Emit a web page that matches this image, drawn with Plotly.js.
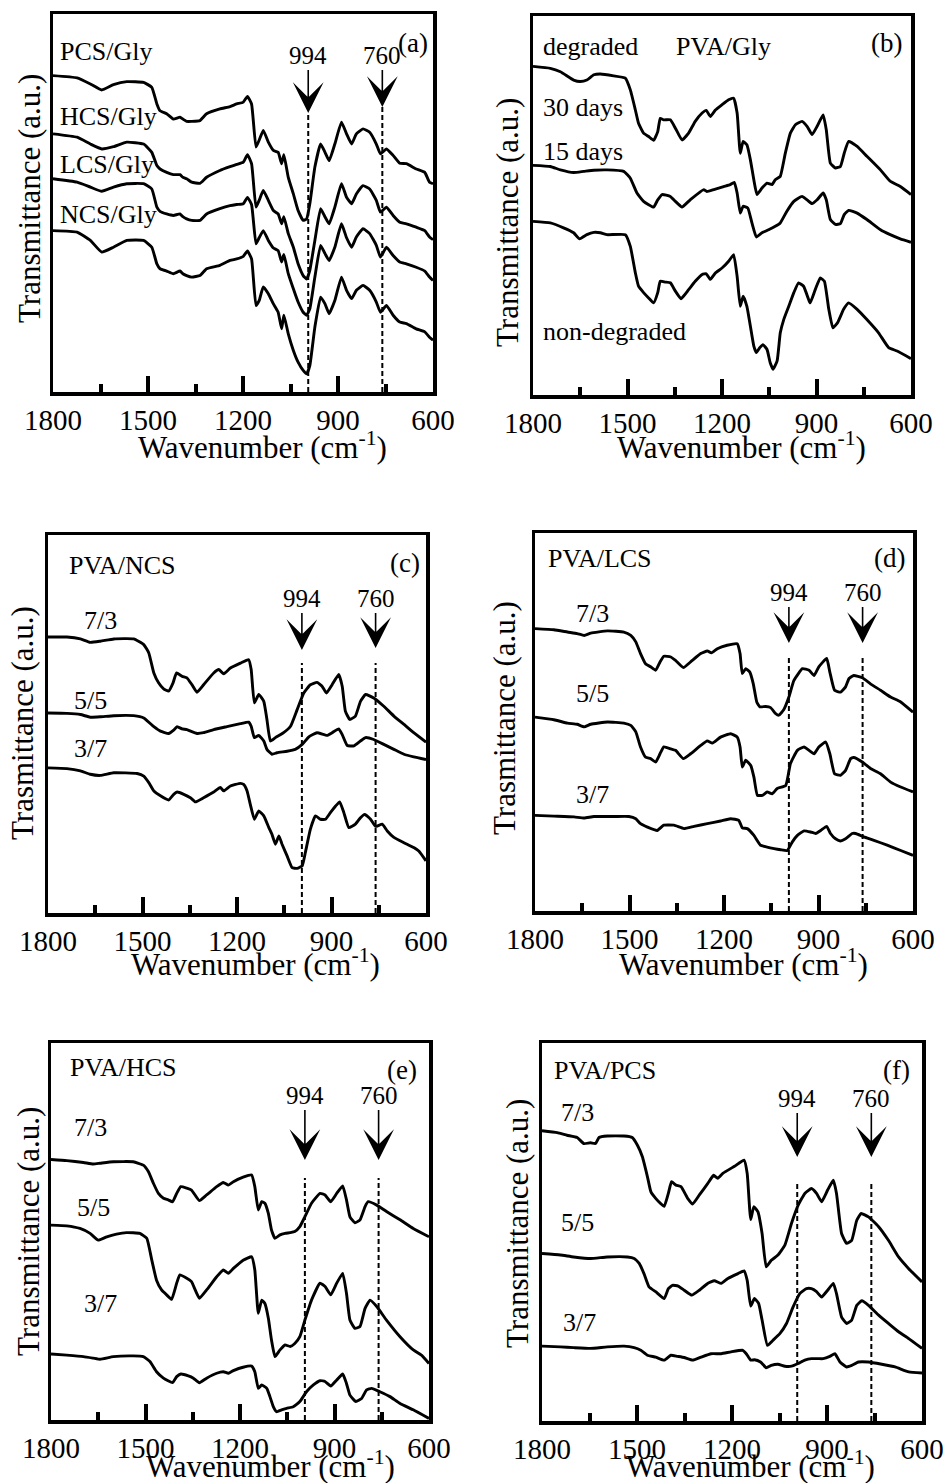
<!DOCTYPE html>
<html><head><meta charset="utf-8">
<script src="https://cdn.plot.ly/plotly-3.0.1.min.js"></script>
<style>html,body{margin:0;padding:0;background:#fff}#chart{width:948px;height:1483px}</style>
</head><body><div id="chart"></div>
<script>
// ---------------- DATA (wavenumber cm-1, transmittance a.u.) ----------------
const tickVals = [1800, 1500, 1200, 900, 600];
const tickText = ['1800', '1500', '1200', '900', '600'];
const minorTicks = [1650, 1350, 1050, 750];
const markerBands = [994, 760];

// (a) Gly-plasticized chitosan films
const wnA = [1800,1724,1682,1646,1609,1567,1514,1488,1472,1462,1441,1420,1399,1390,1378,1362,1336,1315,1273,1241,1220,1199,1186,1173,1159,1149,1136,1120,1104,1089,1078,1071,1057,1041,1026,1010,999,989,973,955,941,928,910,889,873,857,842,821,800,779,766,747,726,705,684,653,626,611,600];
const pcsGly = [83.7,83.1,81.5,79.9,81.3,82.1,81.9,80.6,76.2,74.4,73.6,72.2,72.7,72.2,71.6,71.6,71.8,73.6,74.9,75.5,76.2,76.7,78.2,76.2,64.8,66.6,69.2,66.1,63.9,63.4,60.4,62.8,56.8,52.4,48.0,45.4,45.8,49.8,59.5,65.6,63.4,61.2,65.6,71.4,68.3,65.6,68.3,69.6,68.7,65.6,63.0,64.3,62.6,60.5,60.4,59.0,58.1,55.5,55.1];
const hcsGly = [68.3,67.4,65.6,64.3,64.9,66.1,65.6,63.4,59.9,59.0,58.1,57.5,57.5,56.8,56.4,55.5,55.2,56.8,58.6,59.6,60.2,60.8,62.8,60.4,48.9,50.7,53.3,50.7,48.0,47.1,44.5,46.4,41.9,38.3,33.9,30.8,29.9,32.2,40.1,48.5,46.3,44.5,48.9,55.1,51.5,49.8,52.4,54.6,53.7,50.7,47.6,48.9,46.7,44.9,44.5,43.6,42.7,41.0,40.3];
const lcsGly = [56.4,55.5,54.2,53.1,54.2,55.1,55.1,53.7,48.9,47.8,47.1,46.7,47.1,46.4,45.8,45.4,45.4,47.1,48.5,49.3,49.6,49.8,51.5,49.6,39.2,40.8,42.7,40.1,38.1,37.4,34.4,36.4,31.3,27.3,23.8,21.1,20.3,22.0,30.4,38.8,36.6,34.8,38.3,44.5,40.8,38.3,41.0,43.2,41.9,38.8,35.7,38.3,36.1,34.4,33.9,33.0,32.0,30.4,29.5];
const ncsGly = [42.7,42.3,40.1,37.0,38.3,40.1,40.1,38.3,33.9,32.6,32.0,31.3,32.0,31.3,30.8,30.4,30.8,32.6,33.5,34.8,35.2,35.9,37.3,35.2,22.9,24.2,27.8,26.0,23.3,21.1,16.7,20.3,15.4,11.0,7.9,5.7,4.8,7.0,17.2,25.1,23.3,20.7,24.2,30.4,26.9,24.7,26.9,28.2,26.9,23.8,21.1,22.9,20.3,18.5,18.1,16.7,15.9,14.5,13.7];

// (b) PVA/Gly degradation
const wnB30 = [1800,1745,1713,1671,1650,1629,1607,1586,1544,1507,1491,1475,1465,1449,1433,1417,1404,1396,1385,1364,1348,1327,1306,1285,1263,1250,1237,1221,1200,1179,1163,1152,1142,1133,1121,1110,1099,1089,1073,1057,1041,1031,1015,999,983,967,946,930,914,898,879,869,856,840,824,812,798,771,740,697,666,634,600];
const days30 = [86.7,86.2,85.3,83.1,82.7,83.1,84.5,84.7,84.2,83.6,80.5,75.2,71.7,69.1,68.2,67.2,69.5,73.0,72.6,72.6,70.4,67.3,69.1,72.2,74.4,75.1,73.5,75.2,76.6,77.9,78.3,74.4,63.8,66.9,66.0,62.1,56.8,52.9,54.6,55.9,55.5,56.8,57.7,63.8,69.1,71.3,72.2,70.9,68.7,70.9,73.9,70.0,61.2,59.9,60.3,63.8,66.9,65.6,63.0,59.4,56.4,55.0,52.9];
const wnB15 = [1800,1745,1713,1671,1639,1607,1565,1512,1491,1470,1449,1417,1404,1390,1364,1348,1327,1301,1258,1248,1226,1195,1174,1161,1152,1142,1133,1118,1105,1091,1073,1052,1031,1015,994,972,946,930,914,898,879,869,856,840,824,812,798,771,740,697,666,634,600];
const days15 = [60.6,60.3,59.4,58.7,59.0,59.3,59.4,59.0,57.2,53.3,51.1,49.6,51.5,52.9,52.4,51.1,49.6,51.5,54.2,53.7,54.2,55.0,55.5,56.1,53.3,48.0,49.8,49.3,45.4,41.7,42.8,43.6,44.5,45.4,48.5,51.1,52.4,51.5,50.5,51.5,53.3,51.5,46.3,45.0,45.2,47.6,48.7,48.0,46.3,43.6,42.3,41.2,40.3];
const wnBnd = [1800,1745,1703,1671,1652,1629,1607,1586,1565,1507,1491,1475,1465,1449,1433,1417,1404,1396,1380,1364,1348,1330,1306,1285,1263,1250,1237,1221,1200,1179,1163,1152,1142,1133,1121,1110,1099,1091,1080,1070,1057,1047,1038,1025,1015,1004,988,972,957,941,925,920,904,888,875,861,848,833,814,798,771,740,703,671,644,600];
const nonDegraded = [45.8,45.4,44.1,42.8,41.2,42.3,42.9,42.8,42.3,42.3,39.2,32.2,28.7,27.0,25.6,24.3,27.0,30.0,29.8,29.6,27.4,25.4,27.8,30.0,31.8,32.0,30.5,32.2,33.5,35.3,37.0,31.3,23.4,26.1,23.4,18.2,12.9,11.2,12.5,13.3,12.0,8.5,6.8,9.0,16.4,19.9,23.4,27.0,29.6,28.7,25.2,24.3,27.8,30.9,30.0,22.6,17.7,19.1,22.6,24.3,22.6,19.9,16.4,12.5,11.6,9.6];

// (c) PVA/NCS
const wnC73 = [1800,1740,1697,1666,1634,1591,1528,1496,1480,1464,1449,1433,1417,1403,1392,1374,1359,1343,1327,1306,1274,1258,1242,1221,1189,1163,1155,1145,1131,1115,1105,1094,1078,1052,1030,1009,988,967,946,930,916,898,877,866,856,842,824,808,792,766,734,702,670,639,600];
const ncs73 = [73.0,73.0,72.5,71.6,71.9,72.5,72.5,71.0,68.8,63.5,60.9,59.3,58.7,60.9,63.5,62.6,62.2,60.4,58.4,60.4,63.5,64.4,63.3,64.8,66.1,67.0,64.4,55.6,57.8,56.0,51.2,45.5,46.4,47.7,49.4,53.8,58.2,60.4,61.0,60.0,58.2,60.4,63.1,60.0,53.4,51.2,52.1,56.0,57.8,56.9,54.7,52.1,49.9,47.7,45.2];
const wnC55 = [1800,1740,1697,1666,1634,1591,1528,1496,1464,1443,1417,1401,1390,1374,1359,1327,1306,1274,1232,1189,1163,1155,1145,1131,1115,1105,1089,1073,1041,1015,993,972,946,914,898,877,866,850,829,808,792,766,734,702,670,639,600];
const ncs55 = [52.9,52.8,52.5,51.8,51.9,52.2,52.2,51.6,49.3,48.1,47.5,48.4,49.3,48.7,48.5,47.5,47.7,48.5,49.3,50.1,50.5,49.4,46.4,47.0,45.5,43.3,42.0,42.4,42.8,43.3,44.6,46.6,47.7,47.0,47.7,48.7,47.2,44.3,44.2,45.5,46.4,45.9,44.6,43.3,42.0,41.3,40.6];
const wnC37 = [1800,1740,1697,1666,1634,1591,1517,1496,1480,1464,1443,1417,1401,1390,1369,1348,1332,1306,1274,1253,1242,1221,1189,1179,1168,1158,1145,1131,1115,1099,1089,1078,1067,1057,1041,1025,1009,993,983,967,951,935,919,903,887,874,861,845,824,808,795,776,760,739,723,702,670,639,623,600];
const ncs37 = [38.4,38.2,37.6,36.7,36.4,37.1,36.9,36.2,34.5,32.3,31.0,29.9,31.4,32.0,31.4,30.5,29.4,30.5,32.0,33.2,32.3,33.6,34.3,34.0,32.3,28.8,24.8,27.0,25.7,22.6,20.8,18.2,20.4,18.2,15.1,12.0,11.8,12.5,16.0,22.2,25.7,24.8,24.8,26.6,28.3,29.4,26.6,22.6,23.5,25.2,26.1,24.8,22.9,23.5,21.7,20.0,18.6,17.3,16.4,13.8];

// (d) PVA/LCS
const wnD73 = [1800,1740,1697,1666,1644,1623,1570,1518,1496,1480,1465,1449,1433,1417,1403,1391,1369,1354,1329,1306,1274,1253,1240,1221,1190,1158,1149,1142,1131,1118,1107,1096,1086,1068,1052,1036,1026,1010,994,978,951,930,914,899,874,864,849,830,814,803,788,761,735,703,671,639,600];
const lcs73 = [74.7,74.4,73.8,73.4,72.9,73.5,74.1,73.8,72.9,71.2,68.1,65.4,64.6,63.7,65.9,67.4,67.2,66.3,64.4,65.9,68.1,68.8,68.3,69.4,70.3,70.7,68.1,62.8,64.1,63.2,60.1,55.3,54.0,54.1,53.8,52.2,51.8,53.3,56.6,61.0,64.1,63.7,62.3,64.6,66.8,63.2,58.4,57.9,59.3,61.5,62.3,61.7,60.1,58.4,56.6,55.3,52.6];
const wnD55 = [1800,1740,1697,1666,1644,1623,1570,1518,1496,1480,1465,1449,1433,1417,1403,1391,1369,1354,1329,1306,1274,1253,1237,1211,1179,1158,1149,1142,1131,1115,1105,1094,1078,1063,1047,1031,1004,989,967,946,930,914,899,877,864,849,830,814,798,788,761,735,703,671,639,600];
const lcs55 = [51.3,50.6,49.7,49.4,48.7,49.4,50.0,49.7,49.1,47.4,43.4,40.7,40.3,39.4,41.6,43.4,42.9,42.5,40.3,41.6,43.8,45.0,44.4,46.0,46.9,46.0,43.4,38.1,39.9,38.5,35.4,30.6,30.6,31.5,31.0,32.4,33.2,39.0,42.5,43.4,42.5,41.6,43.4,44.7,41.6,36.3,35.9,37.2,40.3,40.6,39.4,37.7,36.3,34.1,32.8,31.5];
const wnD37 = [1800,1740,1676,1644,1613,1549,1502,1480,1465,1443,1412,1391,1359,1327,1295,1253,1211,1179,1153,1142,1126,1105,1084,1063,1041,1020,999,983,967,946,925,909,893,874,862,846,830,814,793,782,756,724,682,639,600];
const lcs37 = [25.3,25.1,24.9,24.6,25.0,25.0,25.0,24.4,23.1,22.2,21.3,22.7,22.7,21.8,22.4,23.1,23.8,24.4,24.0,22.0,21.8,20.0,17.4,16.9,16.5,16.2,16.0,18.3,20.0,21.2,20.9,20.5,21.3,22.4,20.5,19.1,18.5,19.1,20.5,20.5,19.6,18.7,17.4,16.0,14.7];

// (e) PVA/HCS
const wnE73 = [1800,1750,1697,1666,1644,1602,1539,1507,1491,1475,1459,1443,1428,1414,1401,1388,1369,1354,1329,1306,1274,1253,1237,1221,1190,1163,1153,1142,1131,1121,1110,1100,1089,1073,1057,1041,1026,1010,994,973,946,930,912,893,874,862,851,835,819,803,793,766,735,692,650,600];
const hcs73 = [69.1,68.8,68.3,67.9,68.1,68.5,68.5,67.6,65.9,62.8,60.1,58.8,58.4,57.9,60.1,61.9,61.5,61.0,58.2,59.7,61.9,63.0,62.3,63.2,64.4,65.0,61.9,55.7,57.9,57.5,54.8,50.4,48.2,49.1,49.5,49.7,50.0,51.3,53.9,57.5,60.1,59.7,57.9,60.1,62.1,58.4,53.9,52.3,53.1,56.6,57.9,57.0,55.3,53.1,50.8,48.6];
const wnE55 = [1800,1750,1708,1676,1650,1623,1592,1560,1518,1496,1480,1465,1449,1433,1417,1401,1391,1369,1354,1329,1306,1274,1253,1237,1221,1190,1163,1153,1142,1131,1121,1110,1100,1089,1073,1057,1041,1026,1010,994,973,946,930,912,893,874,862,851,835,819,803,787,766,735,692,650,624,600];
const hcs55 = [51.7,51.5,50.8,49.5,47.7,48.6,49.3,49.7,49.5,48.2,42.4,37.1,34.5,33.2,32.0,36.3,38.5,37.6,36.7,32.3,34.5,38.0,39.8,38.9,40.2,42.4,43.3,39.8,28.3,31.8,30.9,27.0,21.2,16.8,18.6,19.9,19.5,20.3,22.1,26.5,31.8,36.3,35.4,33.2,36.3,38.9,33.6,26.5,24.3,24.8,29.6,31.8,30.1,26.5,22.1,18.6,17.2,15.0];
const wnE37 = [1800,1750,1697,1666,1644,1602,1539,1507,1486,1465,1443,1414,1401,1388,1364,1348,1329,1306,1274,1253,1237,1221,1190,1163,1153,1142,1131,1115,1105,1094,1084,1068,1052,1031,1010,989,967,946,930,912,893,874,862,851,832,814,798,782,756,724,692,650,600];
const hcs37 = [17.5,17.2,16.8,16.4,16.1,16.8,17.0,16.8,15.5,12.8,11.1,9.9,11.5,12.2,11.7,11.1,9.9,11.1,12.4,12.8,12.4,13.1,14.0,14.3,12.8,8.4,9.3,8.4,6.2,3.5,2.2,2.7,3.1,3.5,4.9,7.5,9.3,10.4,10.2,9.0,10.6,12.2,9.7,6.6,4.9,5.7,8.0,8.4,7.5,6.2,4.4,2.7,0.4];

// (f) PVA/PCS
const wnF73 = [1800,1752,1721,1689,1668,1647,1631,1620,1594,1541,1515,1499,1483,1467,1456,1441,1425,1414,1401,1391,1377,1361,1340,1324,1303,1277,1258,1245,1229,1192,1162,1152,1141,1131,1118,1105,1092,1076,1055,1033,1012,991,970,949,933,917,898,880,870,854,838,822,806,792,769,737,706,674,642,600];
const pcs73 = [76.8,76.3,75.6,75.0,73.4,73.6,73.4,75.0,75.4,75.4,75.0,73.0,69.9,64.6,60.6,58.9,57.5,56.8,60.2,63.3,62.4,62.0,58.9,57.4,59.8,62.8,65.0,64.2,65.5,67.4,69.0,65.5,53.3,56.7,55.3,49.6,40.8,42.5,43.9,46.5,52.3,57.1,60.2,61.5,60.2,58.0,61.1,63.7,60.2,49.6,47.0,47.8,53.1,54.9,54.0,51.4,47.8,43.4,40.3,36.8];
const wnF55 = [1800,1742,1700,1647,1594,1530,1509,1493,1478,1462,1441,1414,1401,1388,1370,1351,1327,1303,1277,1256,1234,1213,1181,1162,1152,1141,1129,1116,1105,1088,1070,1049,1028,1007,986,965,949,933,917,898,880,870,854,838,822,806,790,769,737,706,674,642,600];
const pcs55 = [44.3,43.9,43.4,43.0,43.4,43.4,43.0,41.7,39.0,35.5,34.2,32.4,35.0,35.9,35.7,34.6,33.3,34.6,36.4,37.1,36.4,37.7,39.0,39.7,37.2,30.4,32.4,31.1,26.7,20.0,21.4,23.1,25.8,30.2,33.7,35.0,35.0,34.2,32.8,34.6,36.4,33.7,27.5,25.8,26.7,30.6,31.8,30.6,28.0,25.8,23.6,21.8,19.2];
const wnF37 = [1800,1742,1700,1647,1594,1541,1509,1488,1467,1441,1414,1393,1372,1351,1324,1298,1266,1234,1203,1166,1155,1141,1129,1110,1092,1076,1055,1033,1012,991,970,949,928,912,891,875,859,838,822,801,769,727,685,642,600];
const pcs37 = [19.8,19.6,19.4,19.2,19.6,19.8,19.4,18.7,17.4,16.9,16.1,17.4,17.1,16.8,16.1,16.9,17.8,17.8,18.3,18.7,17.8,16.1,16.2,15.6,14.1,14.7,15.0,14.5,14.5,15.2,16.1,16.5,16.5,16.5,17.1,17.8,15.6,14.3,14.7,15.6,15.6,15.0,14.3,13.0,12.7];

// ---------------- LAYOUT ----------------
const W = 948, H = 1483;
const FONT = 'Liberation Serif, "Times New Roman", Times, serif';
const px = v => v / W;
const py = v => 1 - v / H;

const panels = [
  { box:[53,433,14,392], curves:[[wnA,pcsGly],[wnA,hcsGly],[wnA,lcsGly],[wnA,ncsGly]],
    ytitle:'Transmittance (a.u.)', yt:[30,199], xt:[262,445],
    labels:[['PCS/Gly',58,52],['HCS/Gly',58,117],['LCS/Gly',58,164],['NCS/Gly',58,215]],
    tag:['(a)',413,43], marks:{text:55, tips:[113,107], dash:[113,107]} },
  { box:[533,911,16,395], curves:[[wnB30,days30],[wnB15,days15],[wnBnd,nonDegraded]],
    ytitle:'Transmittance (a.u.)', yt:[507,222], xt:[741,445],
    labels:[['degraded',541,47],['PVA/Gly',674,47],['30 days',541,108],['15 days',541,152],['non-degraded',541,332]],
    tag:['(b)',886,43], marks:null },
  { box:[48,426,535,913], curves:[[wnC73,ncs73],[wnC55,ncs55],[wnC37,ncs37]],
    ytitle:'Trasmittance (a.u.)', yt:[22,723], xt:[256,962],
    labels:[['PVA/NCS',67,565],['7/3',82,620],['5/5',72,700],['3/7',72,748]],
    tag:['(c)',405,563], marks:{text:598, tips:[650,648], dash:[663,663]} },
  { box:[535,913,533,911], curves:[[wnD73,lcs73],[wnD55,lcs55],[wnD37,lcs37]],
    ytitle:'Trasmittance (a.u.)', yt:[504,718], xt:[743,962],
    labels:[['PVA/LCS',546,558],['7/3',574,613],['5/5',574,693],['3/7',574,795]],
    tag:['(d)',889,558], marks:{text:592, tips:[643,643], dash:[657,657]} },
  { box:[51,429,1043,1420], curves:[[wnE73,hcs73],[wnE55,hcs55],[wnE37,hcs37]],
    ytitle:'Transmittance (a.u.)', yt:[28,1232], xt:[270,1464],
    labels:[['PVA/HCS',68,1067],['7/3',72,1127],['5/5',75,1207],['3/7',82,1303]],
    tag:['(e)',402,1070], marks:{text:1095, tips:[1160,1160], dash:[1178,1178]} },
  { box:[542,922,1043,1421], curves:[[wnF73,pcs73],[wnF55,pcs55],[wnF37,pcs37]],
    ytitle:'Transmittance (a.u.)', yt:[517,1224], xt:[750,1464],
    labels:[['PVA/PCS',552,1070],['7/3',559,1112],['5/5',559,1222],['3/7',561,1322]],
    tag:['(f)',896,1070], marks:{text:1098, tips:[1157,1157], dash:[1182,1182]} }
];

const data = [];
const layout = {
  width: W, height: H, margin:{l:0,r:0,t:0,b:0},
  paper_bgcolor:'white', plot_bgcolor:'white', showlegend:false,
  font:{family:FONT, color:'black'},
  annotations:[], shapes:[]
};

panels.forEach((p, i) => {
  const n = i + 1;
  const xa = n === 1 ? 'x' : 'x' + n;
  const ya = n === 1 ? 'y' : 'y' + n;
  const [l, r, t, b] = p.box;
  layout['xaxis' + (n === 1 ? '' : n)] = {
    domain:[px(l), px(r)], anchor: ya, range:[1800, 600], autorange:false,
    showline:true, mirror:true, linewidth:3.5, linecolor:'black',
    showgrid:false, zeroline:false,
    ticks:'inside', ticklen:16, tickwidth:4, tickcolor:'black',
    tickmode:'array', tickvals:tickVals, ticktext:tickText,
    tickfont:{family:FONT, size:29, color:'black'}, ticklabelstandoff:0,
    minor:{tickmode:'array', tickvals:minorTicks, ticks:'inside', ticklen:8, tickwidth:4, tickcolor:'black', showgrid:false}
  };
  layout['yaxis' + (n === 1 ? '' : n)] = {
    domain:[py(b), py(t)], anchor: xa, range:[0, 100], autorange:false,
    showline:true, mirror:true, linewidth:3.5, linecolor:'black',
    showgrid:false, zeroline:false, ticks:'', showticklabels:false
  };
  p.curves.forEach(c => data.push({
    x:c[0], y:c[1], xaxis:xa, yaxis:ya, type:'scatter', mode:'lines',
    line:{color:'black', width:2.9, shape:'spline', smoothing:0.4},
    hoverinfo:'skip', showlegend:false
  }));
  // axis titles
  layout.annotations.push({xref:'paper', yref:'paper', x:px(p.yt[0]), y:py(p.yt[1]),
    text:p.ytitle, textangle:-90, showarrow:false, xanchor:'center', yanchor:'middle',
    font:{family:FONT, size:31, color:'black'}});
  layout.annotations.push({xref:'paper', yref:'paper', x:px(p.xt[0]), y:py(p.xt[1]),
    text:'Wavenumber (cm<sup>-1</sup>)', showarrow:false, xanchor:'center', yanchor:'middle',
    font:{family:FONT, size:31, color:'black'}});
  // labels
  p.labels.forEach(L => layout.annotations.push({xref:'paper', yref:'paper',
    x:px(L[1]), y:py(L[2]), text:L[0], showarrow:false, xanchor:'left', yanchor:'middle',
    font:{family:FONT, size:26, color:'black'}}));
  layout.annotations.push({xref:'paper', yref:'paper', x:px(p.tag[1]), y:py(p.tag[2]),
    text:p.tag[0], showarrow:false, xanchor:'center', yanchor:'middle',
    font:{family:FONT, size:27, color:'black'}});
  // band markers
  if (p.marks) {
    markerBands.forEach((wn, k) => {
      layout.shapes.push({type:'line', xref:xa, yref:'paper', x0:wn, x1:wn,
        y0:py(b), y1:py(p.marks.dash[k]), line:{color:'black', width:2, dash:'5px,3px'}});
      layout.annotations.push({xref:xa, yref:'paper', x:wn, y:py(p.marks.tips[k]),
        ax:0, ay:p.marks.text - p.marks.tips[k], text:String(wn), showarrow:true,
        arrowhead:3, arrowsize:3.2, arrowwidth:1.6, arrowcolor:'black', standoff:0,
        font:{family:FONT, size:25, color:'black'}});
    });
  }
});

Plotly.newPlot('chart', data, layout, {staticPlot:true, displayModeBar:false});
</script>
</body></html>
